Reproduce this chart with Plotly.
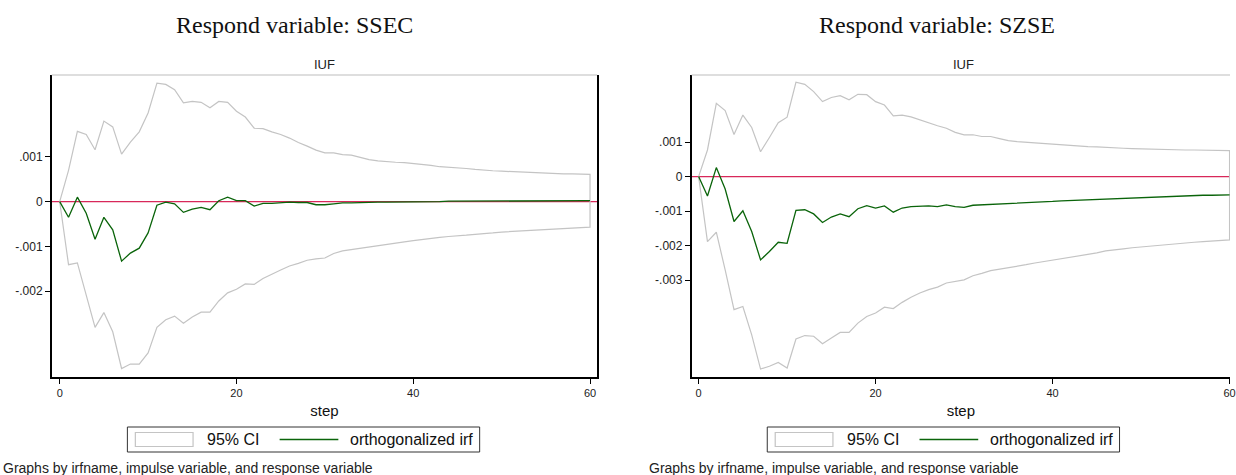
import plotly.graph_objects as go

steps = list(range(61))

# values in units of 0.001
ssec_upper = [0, 0.70, 1.57, 1.50, 1.16, 1.80, 1.67, 1.06, 1.33, 1.56, 1.98, 2.65, 2.62, 2.50, 2.21, 2.24,
              2.22, 2.10, 2.24, 2.22, 2.02, 1.89, 1.64, 1.63, 1.56, 1.50, 1.42, 1.32, 1.24, 1.15, 1.09,
              1.09, 1.05, 1.04, 0.99, 0.94, 0.91, 0.89, 0.88, 0.87, 0.85, 0.84, 0.81, 0.78, 0.77, 0.75,
              0.74, 0.72, 0.70, 0.69, 0.68, 0.67, 0.66, 0.65, 0.64, 0.64, 0.63, 0.62, 0.62, 0.61, 0.61]
ssec_lower = [0, -1.41, -1.37, -2.07, -2.81, -2.48, -2.91, -3.73, -3.63, -3.63, -3.38, -2.81, -2.64, -2.56,
              -2.72, -2.58, -2.47, -2.47, -2.22, -2.04, -1.96, -1.84, -1.85, -1.72, -1.63, -1.53, -1.44,
              -1.38, -1.31, -1.28, -1.26, -1.16, -1.10, -1.07, -1.04, -1.01, -0.98, -0.96, -0.93, -0.90,
              -0.87, -0.85, -0.82, -0.80, -0.78, -0.76, -0.75, -0.73, -0.71, -0.70, -0.68, -0.67, -0.66,
              -0.65, -0.63, -0.62, -0.61, -0.60, -0.59, -0.58, -0.57]
ssec_irf = [0, -0.35, 0.10, -0.26, -0.84, -0.35, -0.63, -1.33, -1.15, -1.04, -0.70, -0.08, -0.01, -0.05,
            -0.24, -0.17, -0.13, -0.18, 0.02, 0.10, 0.02, 0.02, -0.10, -0.04, -0.04, -0.02, -0.01, -0.02,
            -0.02, -0.07, -0.07, -0.05, -0.03, -0.03, -0.02, -0.02, -0.01, -0.01, -0.01, 0.00, 0.00, 0.00,
            0.00, 0.00, 0.01, 0.01, 0.01, 0.01, 0.01, 0.01, 0.01, 0.01, 0.01, 0.02, 0.02, 0.02, 0.02, 0.02,
            0.02, 0.02, 0.02]

szse_upper = [0, 0.77, 2.12, 1.91, 1.22, 1.78, 1.42, 0.72, 1.13, 1.56, 1.72, 2.73, 2.67, 2.46, 2.17, 2.29,
              2.34, 2.22, 2.38, 2.37, 2.17, 2.07, 1.76, 1.78, 1.73, 1.64, 1.54, 1.47, 1.40, 1.28, 1.21,
              1.21, 1.16, 1.16, 1.10, 1.04, 1.01, 0.99, 0.97, 0.95, 0.94, 0.92, 0.90, 0.88, 0.87, 0.86,
              0.84, 0.83, 0.82, 0.81, 0.80, 0.79, 0.79, 0.78, 0.78, 0.77, 0.77, 0.76, 0.76, 0.75, 0.75]
szse_lower = [0, -1.88, -1.61, -2.70, -3.85, -3.76, -4.58, -5.57, -5.49, -5.38, -5.54, -4.70, -4.60, -4.62,
              -4.84, -4.67, -4.51, -4.51, -4.24, -4.05, -3.95, -3.78, -3.82, -3.64, -3.49, -3.37, -3.27,
              -3.20, -3.08, -3.04, -2.99, -2.87, -2.80, -2.72, -2.68, -2.63, -2.59, -2.55, -2.50, -2.45,
              -2.40, -2.36, -2.33, -2.29, -2.25, -2.21, -2.15, -2.12, -2.09, -2.06, -2.03, -2.01, -1.99,
              -1.96, -1.94, -1.92, -1.90, -1.88, -1.86, -1.84, -1.83]
szse_irf = [0, -0.56, 0.26, -0.36, -1.30, -0.99, -1.59, -2.41, -2.17, -1.90, -1.93, -0.98, -0.96, -1.08,
            -1.33, -1.17, -1.08, -1.16, -0.93, -0.84, -0.91, -0.85, -1.03, -0.91, -0.87, -0.85, -0.85,
            -0.87, -0.82, -0.87, -0.89, -0.83, -0.82, -0.79, -0.79, -0.78, -0.78, -0.77, -0.75, -0.73,
            -0.72, -0.70, -0.69, -0.68, -0.66, -0.65, -0.63, -0.62, -0.61, -0.60, -0.59, -0.58, -0.58,
            -0.57, -0.56, -0.56, -0.55, -0.54, -0.54, -0.53, -0.53]

panel_titles = ["Respond variable: SSEC", "Respond variable: SZSE"]
subtitle = "IUF"
legend_labels = ["95% CI", "orthogonalized irf"]
x_ticks = [0, 20, 40, 60]
ssec_yticks = [0.001, 0, -0.001, -0.002]
ssec_yticktext = [".001", "0", "-.001", "-.002"]
szse_yticks = [0.001, 0, -0.001, -0.002, -0.003]
szse_yticktext = [".001", "0", "-.001", "-.002", "-.003"]
note = "Graphs by irfname, impulse variable, and response variable"

SCALE = 1e-3
CI_COLOR = "#c4c4c4"
IRF_COLOR = "#0a640a"
ZERO_COLOR = "#d8285a"
W, H = 1236, 475


def px(x):
    return x / W


def py(y):
    return 1 - y / H


fig = go.Figure()


def add_panel(upper, lower, irf, xa, ya):
    ci_x = steps + steps[::-1]
    ci_y = [v * SCALE for v in upper] + [v * SCALE for v in lower[::-1]]
    fig.add_trace(go.Scatter(x=ci_x, y=ci_y, mode="lines",
                             line=dict(color=CI_COLOR, width=1.2), name=legend_labels[0],
                             xaxis=xa, yaxis=ya, showlegend=False, hoverinfo="skip"))
    fig.add_trace(go.Scatter(x=steps, y=[v * SCALE for v in irf], mode="lines",
                             line=dict(color=IRF_COLOR, width=1.3), name=legend_labels[1],
                             xaxis=xa, yaxis=ya, showlegend=False))
    # reference line at zero, drawn beneath the traces
    fig.add_shape(type="line", xref=xa + " domain", yref=ya, x0=0, x1=1, y0=0, y1=0,
                  layer="below", line=dict(color=ZERO_COLOR, width=1.4))


add_panel(ssec_upper, ssec_lower, ssec_irf, "x", "y")
add_panel(szse_upper, szse_lower, szse_irf, "x2", "y2")

ytop = py(75)
ybot = py(377)
axfont = dict(family="Liberation Sans, Arial", size=11, color="#222")

common_x = dict(tickvals=x_ticks, ticks="outside", ticklen=5, tickcolor="black", showgrid=False,
                zeroline=False, showline=True, linecolor="black", linewidth=1.5, tickfont=axfont,
                title=dict(text="step", font=dict(family="Liberation Sans, Arial", size=15, color="#111"),
                           standoff=8),
                ticklabeloverflow="allow")
common_y = dict(ticks="outside", ticklen=5, tickcolor="black", showgrid=False,
                zeroline=False, showline=True, linecolor="black", linewidth=1.5,
                tickfont=dict(family="Liberation Sans, Arial", size=12, color="#222"))

fig.update_layout(
    width=W, height=H, autosize=False,
    margin=dict(l=0, r=0, t=0, b=0),
    paper_bgcolor="white", plot_bgcolor="white",
    showlegend=False,
    xaxis=dict(domain=[px(52), px(600)], range=[-0.9, 60.8], anchor="y", **common_x),
    yaxis=dict(domain=[ybot, ytop], range=[-3.92e-3, 2.83e-3], anchor="x", mirror=True,
               tickvals=ssec_yticks, ticktext=ssec_yticktext, **common_y),
    xaxis2=dict(domain=[px(695), 1.0], range=[-0.79, 60.05], anchor="y2", **common_x),
    yaxis2=dict(domain=[ybot, ytop], range=[-5.80e-3, 2.94e-3], anchor="x2",
                tickvals=szse_yticks, ticktext=szse_yticktext, **common_y),
)

# gray top border of each plot region
for xr, yr in [("x domain", "y domain"), ("x2 domain", "y2 domain")]:
    fig.add_shape(type="line", xref=xr, yref=yr, x0=0, x1=1, y0=1, y1=1,
                  line=dict(color="#bdbdbd", width=1))

title_font = dict(family="Liberation Serif, Times New Roman", size=24, color="#111")
sub_font = dict(family="Liberation Sans, Arial", size=13, color="#222")
note_font = dict(family="Liberation Sans, Arial", size=14, color="#222")
leg_font = dict(family="Liberation Sans, Arial", size=16, color="#111")


def ann(text, x, y, font, xanchor="center"):
    fig.add_annotation(text=text, x=px(x), y=py(y), xref="paper", yref="paper",
                       xanchor=xanchor, yanchor="middle", showarrow=False, font=font)


ann(panel_titles[0], 296, 25, title_font)
ann(panel_titles[1], 942, 25, title_font)
ann(subtitle, 326, 65, sub_font)
ann(subtitle, 968, 65, sub_font)
ann(note, 1, 468, note_font, xanchor="left")
ann(note, 650, 468, note_font, xanchor="left")


# Stata-like legends (box, CI swatch, line swatch, labels)
def add_legend(x0):
    top, bot = 427, 452
    mid = (top + bot) / 2
    fig.add_shape(type="rect", xref="paper", yref="paper", x0=px(x0), x1=px(x0 + 354),
                  y0=py(bot), y1=py(top), line=dict(color="#333", width=1), fillcolor="white")
    fig.add_shape(type="rect", xref="paper", yref="paper", x0=px(x0 + 8), x1=px(x0 + 66),
                  y0=py(mid + 7), y1=py(mid - 7), line=dict(color=CI_COLOR, width=1.2),
                  fillcolor="white")
    ann(legend_labels[0], x0 + 78, mid, leg_font, xanchor="left")
    fig.add_shape(type="line", xref="paper", yref="paper", x0=px(x0 + 153), x1=px(x0 + 212),
                  y0=py(mid), y1=py(mid), line=dict(color=IRF_COLOR, width=1.3))
    ann(legend_labels[1], x0 + 222, mid, leg_font, xanchor="left")


add_legend(128)
add_legend(771)

fig.write_html("out.html", config={"displayModeBar": False},
               post_script="document.body.style.margin='0';document.body.style.overflow='hidden';")
